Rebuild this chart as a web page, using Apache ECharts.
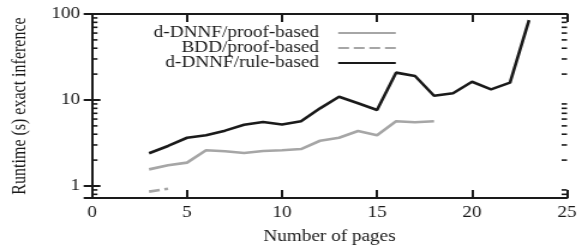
<!DOCTYPE html>
<html>
<head>
    <meta charset="UTF-8"/>
    <script type="text/javascript" src="https://cdn.jsdelivr.net/npm/echarts@6/dist/echarts.min.js"></script>
    <title>runtime</title>
    <style>
        body { margin: 0; overflow: hidden; background: #fff; }
        /* the source figure is stretched sideways, so draw narrow and stretch it */
        #main { width: 481px; height: 247px; transform: scaleX(1.2); transform-origin: 0 0; }
    </style>
</head>
<body>
<div id="main"></div>
<script>
    var pages = [3, 4, 5, 6, 7, 8, 9, 10, 11, 12, 13, 14, 15, 16, 17, 18, 19, 20, 21, 22, 23];
    var ddnnfProof = [1.56, 1.74, 1.87, 2.6, 2.53, 2.42, 2.55, 2.6, 2.69, 3.36, 3.64, 4.36, 3.89, 5.65, 5.5, 5.65];
    var bddProof = [0.86, 0.93];
    var ddnnfRule = [2.4, 2.92, 3.64, 3.89, 4.4, 5.16, 5.55, 5.2, 5.65, 8.0, 10.9, 9.15, 7.65, 20.8, 19.0, 11.2, 12.0, 16.3, 13.3, 15.9, 85];
    var xTicks = [0, 5, 10, 15, 20, 25];
    var yMajor = [1, 10, 100];
    var yMinor = [0.8, 0.9, 2, 3, 4, 5, 6, 7, 8, 9, 20, 30, 40, 50, 60, 70, 80, 90];

    var font = "'Liberation Serif', 'Times New Roman', serif";
    var ink = '#1a1a1a';
    var grey = '#a6a6a6';

    function pairs(vals) {
        var out = [];
        for (var i = 0; i < vals.length; i++) out.push([pages[i], vals[i]]);
        return out;
    }

    var xBase = {
        type: 'value', min: xTicks[0], max: xTicks[xTicks.length - 1], interval: 5,
        axisLine: { show: true, lineStyle: { color: ink, width: 2 } },
        axisTick: { show: true, inside: true, length: 8, lineStyle: { color: ink, width: 2 } },
        splitLine: { show: false }
    };
    var yBase = {
        type: 'log', logBase: 10, min: 0.725, max: 100, splitNumber: 2,
        axisLine: { show: true, lineStyle: { color: ink, width: 2 } },
        axisTick: { show: true, inside: true, length: 7, lineStyle: { color: ink, width: 2 } },
        splitLine: { show: false }
    };

    var option = {
        animation: false,
        backgroundColor: '#fff',
        textStyle: { fontFamily: font, color: ink },
        grid: { left: 76.7, right: 8.5, top: 14, bottom: 49, outerBoundsMode: 'none', containLabel: false },
        legend: {
            orient: 'vertical', align: 'right', right: 150.2, top: 25, padding: 0,
            itemWidth: 48, itemHeight: 14, itemGap: -1,
            itemStyle: { opacity: 0 },
            data: ['d-DNNF/proof-based', 'BDD/proof-based', 'd-DNNF/rule-based'],
            textStyle: { fontFamily: font, fontSize: 16, color: ink, padding: [0, 11, 0, 0] }
        },
        xAxis: [
            Object.assign({}, xBase, {
                position: 'bottom',
                name: 'Number of pages', nameLocation: 'middle', nameGap: 31,
                nameTextStyle: { fontFamily: font, fontSize: 16, color: ink },
                axisLabel: { margin: 7, fontFamily: font, fontSize: 16, color: ink }
            }),
            Object.assign({}, xBase, { position: 'top', axisLabel: { show: false } })
        ],
        yAxis: [
            Object.assign({}, yBase, {
                position: 'left',
                name: 'Runtime (s) exact inference', nameLocation: 'middle', nameGap: 52,
                nameTextStyle: { fontFamily: font, fontSize: 16, color: ink },
                axisLabel: {
                    margin: 10, fontFamily: font, fontSize: 16, color: ink,
                    formatter: function (v) {
                        for (var i = 0; i < yMajor.length; i++) {
                            if (Math.abs(v - yMajor[i]) < 1e-6 * yMajor[i]) return String(yMajor[i]);
                        }
                        return '';
                    }
                }
            }),
            Object.assign({}, yBase, { position: 'right', axisLabel: { show: false } })
        ],
        series: [
            {
                name: 'd-DNNF/proof-based', type: 'line', symbol: 'none', data: pairs(ddnnfProof),
                color: grey, lineStyle: { color: grey, width: 2.6 }
            },
            {
                name: 'BDD/proof-based', type: 'line', symbol: 'none', data: pairs(bddProof),
                color: grey, lineStyle: { color: grey, width: 2.6, type: [9, 4] }
            },
            {
                name: 'd-DNNF/rule-based', type: 'line', symbol: 'none', data: pairs(ddnnfRule),
                color: ink, lineStyle: { color: ink, width: 2.6 }
            },
            {
                // log minor ticks on both vertical sides
                type: 'custom', silent: true, clip: false, z: 5,
                data: yMinor.map(function (v) { return [xTicks[0], v]; }),
                renderItem: function (params, api) {
                    var l = api.coord([xTicks[0], api.value(1)]);
                    var r = api.coord([xTicks[xTicks.length - 1], api.value(1)]);
                    var st = { stroke: ink, lineWidth: 1.6, fill: null };
                    return {
                        type: 'group',
                        children: [
                            { type: 'line', shape: { x1: l[0], y1: l[1], x2: l[0] + 4.5, y2: l[1] }, style: st },
                            { type: 'line', shape: { x1: r[0], y1: r[1], x2: r[0] - 4.5, y2: r[1] }, style: st }
                        ]
                    };
                }
            }
        ]
    };

    var chart = echarts.init(document.getElementById('main'));
    chart.setOption(option);
</script>
</body>
</html>
